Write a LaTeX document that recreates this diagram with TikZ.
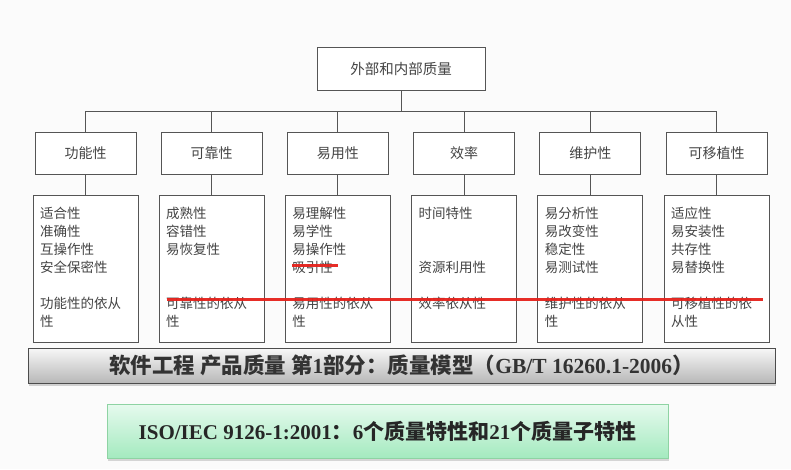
\documentclass[tikz,border=0pt]{standalone}
\usepackage{fontspec}
\setmainfont{Liberation Serif}
\newfontfamily\cjk{Noto Sans CJK SC}
\usetikzlibrary{positioning,shadows}

\definecolor{paper}{HTML}{FBFBFB}
\definecolor{boxline}{HTML}{555555}
\definecolor{boxtext}{HTML}{444444}
\definecolor{strikered}{HTML}{E5221C}
\definecolor{isotop}{HTML}{E6FAEE}
\definecolor{isobottom}{HTML}{A4EABF}
\definecolor{isoline}{HTML}{8ED3A3}

% sub-characteristic list, top aligned inside a fixed-height box
\newcommand{\sublist}[1]{\parbox[c][147pt][t]{91pt}{\raggedright\vspace*{11pt}#1}}

\begin{document}
\begin{tikzpicture}[x=1pt, y=-1pt,
    qbox/.style={draw=boxline, line width=0.9pt, fill=white, text=boxtext,
        font=\cjk\fontsize{14}{17}\selectfont},
    catbox/.style={qbox, minimum width=101pt, minimum height=42pt, inner sep=0pt},
    subbox/.style={qbox, inner xsep=7pt, inner ysep=0pt,
        font=\cjk\fontsize{13.5}{18}\selectfont},
    link/.style={draw=boxline, line width=0.9pt},
    strike/.style={draw=strikered, line width=3pt, opacity=0.95},
    stdbar/.style={draw=black!70, line width=0.8pt, top color=black!3, bottom color=black!28,
        minimum width=747pt, minimum height=35pt, text=black!80,
        font=\bfseries\fontsize{21.5}{24}\selectfont,
        drop shadow={shadow xshift=1pt, shadow yshift=-2.5pt, opacity=0.35}},
    isobar/.style={draw=isoline, line width=0.8pt, top color=isotop, bottom color=isobottom,
        minimum width=561pt, minimum height=54pt, text=black!85,
        font=\bfseries\fontsize{21}{24}\selectfont,
        drop shadow={shadow xshift=1pt, shadow yshift=-2.5pt, opacity=0.3}}]

    % Page
    \fill[paper] (0,0) rectangle (791,469);
    \useasboundingbox (0,0) rectangle (791,469);

    % Root
    \node[qbox, minimum width=168pt, minimum height=43pt, font=\cjk\fontsize{14.5}{17}\selectfont]
        (top) at (401,68.5) {外部和内部质量};
    \coordinate (bus) at (401,111);

    % Characteristics
    \foreach \i/\x/\name in {1/85.5/功能性, 2/211.7/可靠性, 3/337.9/易用性,
                             4/464.1/效率, 5/590.3/维护性, 6/716.5/可移植性}
        \node[catbox] (c\i) at (\x,153) {\name};

    % Sub-characteristics
    \node[subbox, below=21pt of c1] (d1) {\sublist{适合性\\准确性\\互操作性\\安全保密性\\[18pt]功能性的依从\\性}};
    \node[subbox, below=21pt of c2] (d2) {\sublist{成熟性\\容错性\\易恢复性\\[36pt]可靠性的依从\\性}};
    \node[subbox, below=21pt of c3] (d3) {\sublist{易理解性\\易学性\\易操作性\\吸引性\\[18pt]易用性的依从\\性}};
    \node[subbox, below=21pt of c4] (d4) {\sublist{时间特性\\[36pt]资源利用性\\[18pt]效率依从性}};
    \node[subbox, below=21pt of c5] (d5) {\sublist{易分析性\\易改变性\\稳定性\\易测试性\\[18pt]维护性的依从\\性}};
    \node[subbox, below=21pt of c6] (d6) {\sublist{适应性\\易安装性\\共存性\\易替换性\\[18pt]可移植性的依\\从性}};

    % Tree lines
    \draw[link] (top.south) -- (bus);
    \draw[link] (c1.north) -- (c1.north |- bus) -- (c6.north |- bus) -- (c6.north);
    \foreach \i in {2,...,5}
        \draw[link] (c\i.north) -- (c\i.north |- bus);
    \foreach \i in {1,...,6}
        \draw[link] (c\i.south) -- (d\i.north);

    % Red marks
    \draw[strike] (167,299) -- (763,299);
    \draw[strike] (292,265.5) -- (338,265.5);

    % Standards
    \node[stdbar] (std) at (401.5,365.5)
        {{\cjk 软件工程 产品质量 第}1{\cjk 部分：质量模型（}GB/T 16260.1-2006{\cjk ）}};
    \node[isobar] (iso) at (387.5,431)
        {ISO/IEC 9126-1:2001{\cjk ：}6{\cjk 个质量特性和}21{\cjk 个质量子特性}};
\end{tikzpicture}
\end{document}
